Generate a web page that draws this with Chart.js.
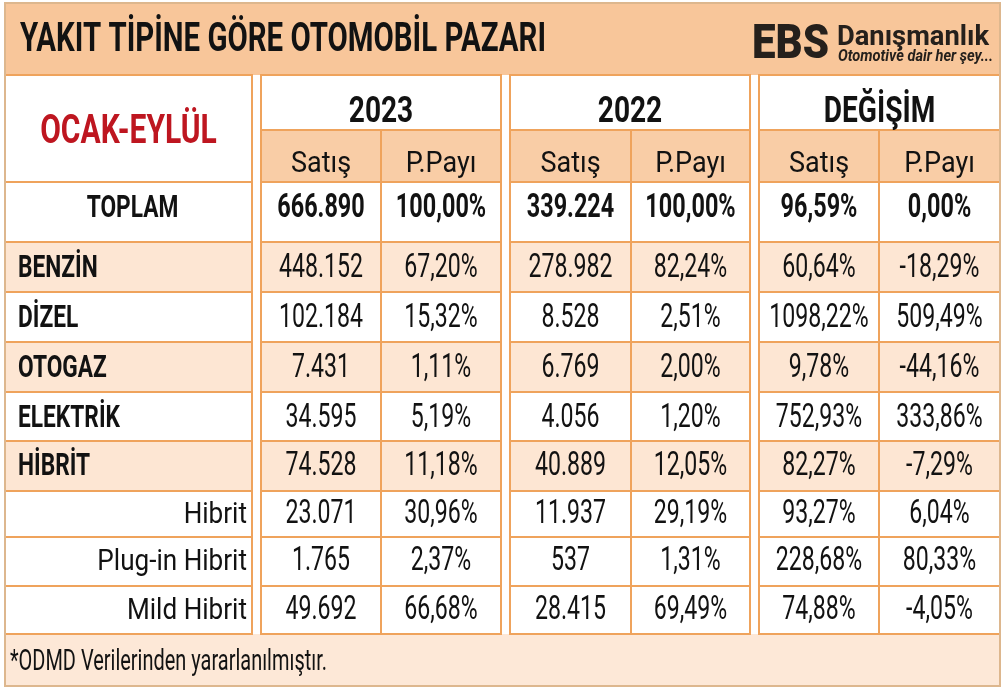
<!DOCTYPE html>
<html lang="tr"><head><meta charset="utf-8">
<script src="https://cdn.jsdelivr.net/npm/chart.js@4.4.1/dist/chart.umd.min.js"></script>
<style>html,body{margin:0;padding:0;background:#fff;overflow:hidden}#wrap{width:1008px;height:693px}canvas{display:block}</style>
</head><body><div id="wrap"><canvas id="c" width="1008" height="693"></canvas></div>
<script>
// ---------- DATA ----------
const title = 'YAKIT TİPİNE GÖRE OTOMOBİL PAZARI';
const period = 'OCAK-EYLÜL';
const groups = ['2023', '2022', 'DEĞİŞİM'];
const subHeaders = ['Satış', 'P.Payı'];
const rowLabels = ['TOPLAM', 'BENZİN', 'DİZEL', 'OTOGAZ', 'ELEKTRİK', 'HİBRİT', 'Hibrit', 'Plug-in Hibrit', 'Mild Hibrit'];
const sales2023 = [666890, 448152, 102184, 7431, 34595, 74528, 23071, 1765, 49692];
const share2023 = [100.00, 67.20, 15.32, 1.11, 5.19, 11.18, 30.96, 2.37, 66.68];
const sales2022 = [339224, 278982, 8528, 6769, 4056, 40889, 11937, 537, 28415];
const share2022 = [100.00, 82.24, 2.51, 2.00, 1.20, 12.05, 29.19, 1.31, 69.49];
const changeSales = [96.59, 60.64, 1098.22, 9.78, 752.93, 82.27, 93.27, 228.68, 74.88];
const changeShare = [0.00, -18.29, 509.49, -44.16, 333.86, -7.29, 6.04, 80.33, -4.05];
const footnote = '*ODMD Verilerinden yararlanılmıştır.';
const brand = 'EBS';
const brandName = 'Danışmanlık';
const brandTag = 'Otomotive dair her şey...';

// ---------- LAYOUT / STYLE ----------
const COL_W = [247, 9, 120, 120, 9, 121, 119, 9, 120, 121];   // label, gap, 2023(2), gap, 2022(2), gap, değişim(2)
const ROW_H = [72, 55, 52, 60, 50, 50, 50, 49, 50, 46, 49, 48, 52]; // band, group, sub, 9 data rows, footer
const BASE = [48, 47, 42, 35, 35, 35, 35, 35, 34, 32, 33, 33, 36]; // baseline offset in each row
const VALUE_COLS = [2, 3, 5, 6, 8, 9];
const GROUP_COLS = [[2, 3], [5, 6], [8, 9]];
const rowKind = ['total', 'main', 'main', 'main', 'main', 'main', 'sub', 'sub', 'sub'];
const shaded = [false, true, false, true, false, true, false, false, false];
const C = {
  band: '#F8C69A', sub: '#F9CDA6', shade: '#FDE6D3', foot: '#FDE8D7',
  line: '#EFA35C', outer: '#DDB78E', text: '#121212', red: '#BE1620', logo: '#25201C'
};
const FONT = 'Roboto, "Noto Sans", sans-serif';

const xEdge = [0]; COL_W.forEach(w => xEdge.push(xEdge[xEdge.length - 1] + w));
const yEdge = [0]; ROW_H.forEach(h => yEdge.push(yEdge[yEdge.length - 1] + h));

function fmtInt(v) { return String(v).replace(/\B(?=(\d{3})+(?!\d))/g, '.'); }
function fmtPct(v) { return v.toFixed(2).replace('.', ',') + '%'; }

const columns = [
  { vals: sales2023, fmt: fmtInt }, { vals: share2023, fmt: fmtPct },
  { vals: sales2022, fmt: fmtInt }, { vals: share2022, fmt: fmtPct },
  { vals: changeSales, fmt: fmtPct }, { vals: changeShare, fmt: fmtPct }
];

const datasets = columns.map((col, ci) => ({
  label: groups[Math.floor(ci / 2)] + ' ' + subHeaders[ci % 2],
  data: col.vals.map((v, ri) => ({
    x: (xEdge[VALUE_COLS[ci]] + xEdge[VALUE_COLS[ci] + 1]) / 2,
    y: (yEdge[ri + 3] + yEdge[ri + 4]) / 2,
    v: v
  })),
  pointRadius: 0, pointHoverRadius: 0, showLine: false
}));

function txt(ctx, s, x, y, o) {
  ctx.save();
  ctx.font = `${o.style || 'normal'} ${o.weight || 400} ${o.size}px ${FONT}`;
  const w = ctx.measureText(s).width;
  const k = o.fitW ? o.fitW / w : (o.sx || 1);
  ctx.translate(x, y);
  ctx.scale(k, 1);
  ctx.textAlign = o.align || 'center';
  ctx.textBaseline = 'alphabetic';
  ctx.fillStyle = o.color || C.text;
  ctx.fillText(s, 0, 0);
  ctx.restore();
}

const tablePlugin = {
  id: 'table',
  beforeDatasetsDraw(chart) {
    const ctx = chart.ctx, xs = chart.scales.x, ys = chart.scales.y;
    const X = i => xs.getPixelForValue(xEdge[i]);
    const Y = i => ys.getPixelForValue(yEdge[i]);
    ctx.save();
    ctx.fillStyle = '#fff';
    ctx.fillRect(0, 0, chart.width, chart.height);
    ctx.fillStyle = C.band; ctx.fillRect(X(0), Y(0), X(COL_W.length) - X(0), Y(1) - Y(0));
    ctx.fillStyle = C.foot; ctx.fillRect(X(0), Y(12), X(COL_W.length) - X(0), Y(13) - Y(12));
    ctx.fillStyle = C.sub;
    VALUE_COLS.forEach(c => ctx.fillRect(X(c), Y(2), X(c + 1) - X(c), Y(3) - Y(2)));
    ctx.fillStyle = C.shade;
    shaded.forEach((s, ri) => {
      if (!s) return;
      [0].concat(VALUE_COLS).forEach(c => ctx.fillRect(X(c), Y(ri + 3), X(c + 1) - X(c), Y(ri + 4) - Y(ri + 3)));
    });
    ctx.strokeStyle = C.line; ctx.lineWidth = 2;
    const boxes = [[0, 0]].concat(GROUP_COLS);
    boxes.forEach(([a, b], bi) => {
      const x0 = X(a), x1 = X(b + 1);
      ctx.strokeRect(x0, Y(1), x1 - x0, Y(12) - Y(1));
      for (let r = 2; r <= 11; r++) {
        if (bi === 0 && r === 2) continue;
        ctx.beginPath(); ctx.moveTo(x0, Y(r)); ctx.lineTo(x1, Y(r)); ctx.stroke();
      }
      if (b !== a) {
        ctx.beginPath(); ctx.moveTo(X(b), Y(2)); ctx.lineTo(X(b), Y(12)); ctx.stroke();
      }
    });
    ctx.strokeStyle = C.outer; ctx.lineWidth = 2;
    ctx.strokeRect(X(0), Y(0), X(COL_W.length) - X(0), Y(13) - Y(0));
    ctx.restore();

    // ---- texts ----
    txt(ctx, title, X(0) + 15, Y(0) + BASE[0], { size: 40, weight: 700, align: 'left', fitW: 526 });
    const lx = X(COL_W.length) - 248;
    txt(ctx, brand, lx, Y(0) + 55, { size: 48, weight: 900, align: 'left', fitW: 77, color: C.logo });
    txt(ctx, brandName, lx + 85, Y(0) + 42, { size: 28, weight: 700, align: 'left', fitW: 152, color: C.logo });
    txt(ctx, brandTag, lx + 86, Y(0) + 58, { size: 16, weight: 700, style: 'italic', align: 'left', fitW: 155, color: C.logo });
    txt(ctx, period, (X(0) + X(1)) / 2, Y(1) + 68, { size: 40, weight: 700, sx: 0.75, color: C.red });
    GROUP_COLS.forEach(([a, b], gi) => {
      txt(ctx, groups[gi], (X(a) + X(b + 1)) / 2, Y(1) + BASE[1], { size: 36, weight: 700, sx: 0.78 });
      [a, b].forEach((c, si) => txt(ctx, subHeaders[si], (X(c) + X(c + 1)) / 2, Y(2) + BASE[2], { size: 30, weight: 400, sx: 0.9 }));
    });
    rowLabels.forEach((lab, ri) => {
      const y = Y(ri + 3) + BASE[ri + 3];
      if (rowKind[ri] === 'total') txt(ctx, lab, (X(0) + X(1)) / 2 + 4, y, { size: 32, weight: 700, sx: 0.71 });
      else if (rowKind[ri] === 'main') txt(ctx, lab, X(0) + 13, y, { size: 32, weight: 700, sx: 0.71, align: 'left' });
      else txt(ctx, lab, X(1) - 5, y, { size: 30, weight: 400, sx: 0.87, align: 'right' });
    });
    txt(ctx, footnote, X(0) + 5, Y(12) + BASE[12], { size: 30, weight: 400, align: 'left', fitW: 317 });
  },
  afterDatasetsDraw(chart) {
    const ctx = chart.ctx, ys = chart.scales.y;
    chart.data.datasets.forEach((ds, ci) => {
      const meta = chart.getDatasetMeta(ci);
      meta.data.forEach((pt, ri) => {
        const y = ys.getPixelForValue(yEdge[ri + 3]) + BASE[ri + 3];
        const bold = rowKind[ri] === 'total';
        txt(ctx, columns[ci].fmt(ds.data[ri].v), pt.x, y, { size: 33, weight: bold ? 700 : 400, sx: bold ? 0.71 : 0.70 });
      });
    });
  }
};

new Chart(document.getElementById('c'), {
  type: 'scatter',
  data: { datasets },
  options: {
    responsive: false, animation: false, devicePixelRatio: 1,
    layout: { padding: { left: 5, right: 8, top: 3, bottom: 7 } },
    plugins: { legend: { display: false }, tooltip: { enabled: false } },
    events: [],
    scales: {
      x: { type: 'linear', display: false, min: 0, max: xEdge[xEdge.length - 1] },
      y: { type: 'linear', display: false, min: 0, max: yEdge[yEdge.length - 1], reverse: true }
    }
  },
  plugins: [tablePlugin]
});
</script>
</body></html>
